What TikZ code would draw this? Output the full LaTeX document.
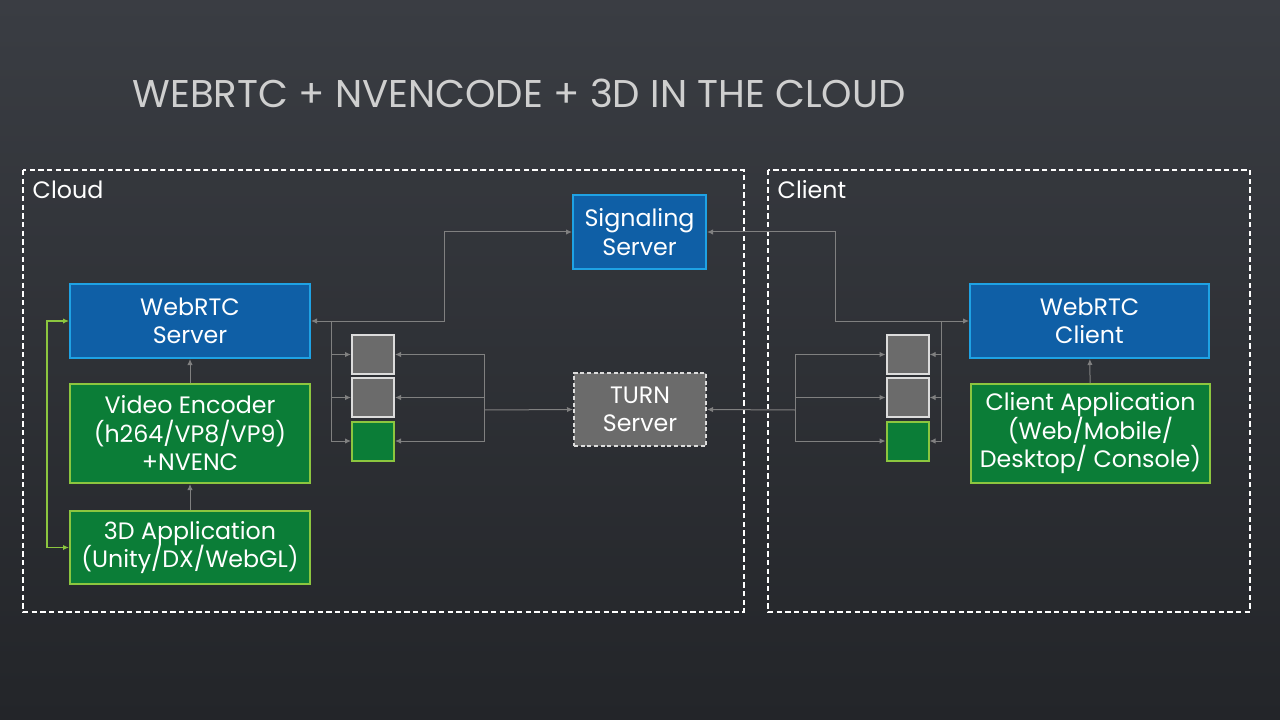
\documentclass[tikz,border=0pt]{standalone}
\usepackage{fontspec}
\setmainfont{Poppins}
\usetikzlibrary{arrows.meta}
\definecolor{bgtop}{HTML}{3A3D43}
\definecolor{bgbot}{HTML}{232529}
\definecolor{bluefill}{HTML}{0F5FA6}
\definecolor{blueline}{HTML}{1FA2E4}
\definecolor{greenfill}{HTML}{0B7D37}
\definecolor{greenline}{HTML}{8CC63F}
\definecolor{greyfill}{HTML}{6B6B6B}
\definecolor{greyline}{HTML}{DCDCDC}
\definecolor{linkgrey}{HTML}{808080}
\definecolor{titlegrey}{HTML}{CFCFCF}
\begin{document}
\begin{tikzpicture}[x=0.75pt,y=-0.75pt,
		font=\fontsize{17.8}{21.4}\selectfont,
		frame/.style={draw=white, line width=1.2pt, dash pattern=on 4pt off 2.5pt},
		bluebox/.style={draw=blueline, fill=bluefill, line width=1.5pt, text=white, align=center, inner sep=0pt},
		greenbox/.style={draw=greenline, fill=greenfill, line width=1.5pt, text=white, align=center, inner sep=0pt},
		greybox/.style={draw=greyline, fill=greyfill, line width=1.5pt, text=white, align=center, inner sep=0pt},
		turnbox/.style={greybox, dash pattern=on 3pt off 2pt},
		port/.style={minimum width=31.5pt, minimum height=29.25pt},
		link/.style={draw=linkgrey, line width=0.75pt, -{Latex[length=4.5pt,width=4pt]}},
		twoway/.style={draw=linkgrey, line width=0.75pt, {Latex[length=4.5pt,width=4pt]}-{Latex[length=4.5pt,width=4pt]}},
		glink/.style={draw=greenline, line width=0.9pt, {Latex[length=4.5pt,width=4pt]}-{Latex[length=4.5pt,width=4pt]}},
	]
	\useasboundingbox (0,0) rectangle (1280,720);
	\shade[top color=bgtop, bottom color=bgbot] (0,0) rectangle (1280,720);

	% title
	\node[anchor=west, text=titlegrey, font=\fontsize{29}{35}\selectfont] (title) at (128,93) {WEBRTC + NVENCODE + 3D IN THE CLOUD};

	% frames
	\draw[frame] (23,170) rectangle (744,612);
	\draw[frame] (768,170) rectangle (1250,612);
	\node[anchor=west, text=white] (cloudlbl) at (28,190) {Cloud};
	\node[anchor=west, text=white] (clientlbl) at (773,190) {Client};

	% cloud side
	\node[bluebox, minimum width=99.75pt, minimum height=55.5pt] (sig) at (639.5,232) {Signaling\\Server};
	\node[bluebox, minimum width=180pt, minimum height=55.5pt] (wsrv) at (190,321) {WebRTC\\Server};
	\node[greenbox, minimum width=180pt, minimum height=74.25pt] (enc) at (190,433.5) {Video Encoder\\(h264/VP8/VP9)\\+NVENC};
	\node[greenbox, minimum width=180pt, minimum height=54.75pt] (app) at (190,547.5) {3D Application\\(Unity/DX/WebGL)};
	\node[greybox, port] (s1) at (373,354.5) {};
	\node[greybox, port] (s2) at (373,397.5) {};
	\node[greenbox, port] (s3) at (373,441) {};
	\node[turnbox, minimum width=99pt, minimum height=54.75pt] (turn) at (640,409.5) {TURN\\Server};

	% client side
	\node[greybox, port] (c1) at (907.5,354.5) {};
	\node[greybox, port] (c2) at (907.5,397.5) {};
	\node[greenbox, port] (c3) at (907.5,441) {};
	\node[bluebox, minimum width=179.25pt, minimum height=55.5pt] (wcli) at (1089.5,321) {WebRTC\\Client};
	\node[greenbox, minimum width=179.25pt, minimum height=74.25pt] (capp) at (1090.5,433.5) {Client Application\\(Web/Mobile/\\Desktop/ Console)};

	% junctions
	\coordinate (tl) at (331,321);
	\coordinate (tr) at (484,410);
	\coordinate (cl) at (795,410);
	\coordinate (cr) at (941,321);

	% links
	\draw[link] (enc) -- (wsrv);
	\draw[link] (app) -- (enc);
	\draw[link] (capp) -- (wcli);
	\draw[glink] (wsrv.west) -- ++(-22,0) |- (app.west);
	\draw[twoway] (wsrv.east) -- ++(133,0) |- (sig.west);
	\draw[twoway] (sig.east) -- ++(128,0) |- (wcli.west);
	\foreach \b in {s1,s2,s3} {
		\draw[link] (tl) |- (\b.west);
		\draw[link] (tr) |- (\b.east);
	}
	\foreach \b in {c1,c2,c3} {
		\draw[link] (cl) |- (\b.west);
		\draw[link] (cr) |- (\b.east);
	}
	\draw[link] (tr) -- (turn.west);
	\draw[link] (cl) -- (turn.east);
\end{tikzpicture}
\end{document}
